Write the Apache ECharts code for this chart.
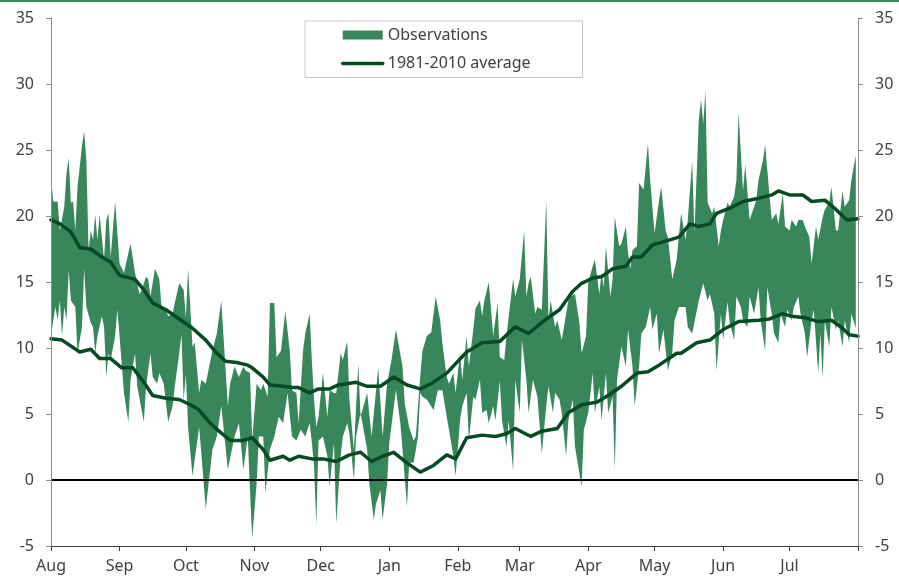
<!DOCTYPE html>
<html>
<head>
<meta charset="utf-8">
<script src="https://cdn.jsdelivr.net/npm/echarts@6/dist/echarts.min.js"></script>
<style>
html,body{margin:0;padding:0;background:#fff;}
#chart{width:899px;height:576px;}
</style>
</head>
<body>
<div id="chart"></div>
<script>
// Month ticks (day offsets from 1 Aug) and labels
const monthStarts = [0,31,61,92,122,153,184,212,243,273,304,334,365];
const monthLabels = ['Aug','Sep','Oct','Nov','Dec','Jan','Feb','Mar','Apr','May','Jun','Jul'];
const yTicks = [-5,0,5,10,15,20,25,30,35];

// Observed daily maxima (upper edge of band)
const maxDays = [0,1,3,4,6,7,8,9,10,11,12,14,15,16,17,18,19,20,21,22,24,25,26,27,29,31,33,35,36,38,40,41,43,44,45,47,49,50,52,53,55,56,58,60,
61,62,64,65,67,68,70,73,75,77,80,81,83,85,87,88,90,91,93,95,96,98,99,101,102,104,106,108,109,111,112,114,115,117,118,119,120,121,
123,125,126,128,129,131,132,134,135,137,139,140,143,145,148,150,152,154,156,159,160,162,164,165,167,168,170,172,174,176,177,179,180,
182,183,185,186,188,189,191,192,194,195,196,198,200,202,203,205,206,209,210,212,214,215,216,217,219,220,222,224,225,226,228,229,231,232,234,235,237,239,240,242,
243,245,246,248,249,250,251,253,254,255,257,258,260,261,262,263,265,266,268,270,271,273,275,276,278,279,281,283,285,287,288,290,291,293,294,295,296,297,299,300,302,303,
304,306,307,309,310,311,313,314,316,317,319,320,322,323,325,326,328,329,331,332,334,335,337,338,340,341,343,344,346,347,349,350,352,353,355,356,358,359,361,362,364];
const obsMax = [23.0,21.1,21.1,18.9,20.7,23.2,24.4,21.0,21.1,18.9,22.2,25.3,26.4,24.2,17.4,18.9,18.2,20.1,18.2,20.1,16.7,19.7,20.2,16.9,21.1,16.4,15.7,17.2,17.9,15.7,14.1,14.4,15.4,15.2,13.9,16.0,15.2,13.1,12.9,12.4,12.6,13.4,14.9,14.4,
12.3,16.0,10.1,10.4,6.6,7.6,7.3,9.8,11.1,13.6,5.6,7.3,8.6,7.8,8.6,8.3,8.1,3.0,7.3,6.8,7.3,6.3,13.4,13.4,9.3,9.8,12.8,9.8,6.8,6.6,4.3,9.8,11.1,12.6,9.0,6.0,4.0,4.8,
8.1,4.8,6.8,6.6,6.6,9.6,9.1,10.5,6.0,2.3,8.8,4.8,6.6,3.3,8.5,3.3,7.3,9.1,11.4,8.6,5.8,4.0,3.0,3.3,7.8,9.8,10.9,11.2,13.9,12.1,10.4,7.8,7.3,
8.1,6.6,9.6,7.6,10.9,8.6,11.4,13.0,13.6,12.4,13.6,15.0,10.9,13.4,9.3,9.1,10.9,15.2,13.9,15.2,18.9,13.9,14.9,15.4,12.6,13.1,12.9,21.2,12.1,13.6,11.6,12.1,10.6,11.6,13.6,13.9,14.1,11.9,9.6,10.9,
15.0,16.2,16.7,14.1,15.7,14.6,17.7,13.9,15.2,19.9,17.7,17.9,19.2,17.2,16.0,17.4,17.7,22.5,22.0,25.5,22.7,18.7,21.2,22.2,18.9,18.4,15.2,16.7,20.2,18.2,19.7,24.2,18.7,27.3,28.8,27.0,29.5,21.0,20.2,20.7,17.7,18.9,
19.7,21.0,20.7,21.5,22.7,27.8,21.9,23.9,19.7,20.2,21.2,22.7,24.2,25.4,21.5,19.7,20.2,19.4,21.7,19.2,18.9,19.7,19.2,19.7,19.7,19.2,18.4,16.4,19.2,18.2,19.9,20.5,21.0,22.2,18.9,18.9,21.9,20.7,21.2,22.7,24.6];

// Observed daily minima (lower edge of band)
const minDays = [0,2,3,4,5,6,7,8,9,11,12,14,15,16,18,19,20,21,23,24,25,26,27,29,30,31,33,35,36,38,39,42,43,45,46,48,49,51,53,55,56,58,59,60,61,62,64,
67,68,70,73,75,77,80,83,85,87,89,90,91,93,94,96,97,99,101,103,105,107,109,111,113,115,117,118,119,120,121,
123,125,126,128,129,131,132,134,135,137,138,140,143,144,146,147,149,150,152,153,156,158,159,161,162,164,166,167,168,170,173,175,177,180,
182,183,185,186,188,189,191,192,194,195,197,198,200,201,203,204,206,207,209,210,212,213,215,216,218,220,222,224,225,227,228,230,231,233,234,236,237,240,241,
243,245,246,248,249,251,252,254,255,256,258,260,261,263,264,266,267,269,271,272,274,275,277,279,281,282,284,287,288,290,293,295,297,298,300,301,303,304,
306,307,309,310,312,313,315,316,318,320,321,323,324,326,327,329,330,332,333,335,336,338,339,341,342,344,345,347,348,349,350,352,353,355,356,358,359,361,362,364];
const obsMin = [11.0,13.1,12.1,13.6,10.9,13.1,12.1,15.9,13.6,13.1,9.6,11.6,16.0,13.1,11.9,11.6,9.6,10.9,12.4,11.6,7.8,9.6,9.1,10.9,12.9,10.9,6.6,4.4,7.6,9.6,7.1,4.4,7.1,9.6,7.8,7.3,8.1,7.3,4.4,5.6,7.1,9.6,11.0,6.0,8.0,4.0,0.3,
4.0,2.0,-2.2,2.3,3.3,5.6,0.8,3.3,4.3,0.8,3.3,-0.8,-4.4,-0.3,3.3,3.3,-1.0,2.3,3.3,4.8,4.3,6.6,3.3,3.0,3.8,3.3,4.3,2.8,1.0,-3.4,3.0,
3.3,1.8,-0.5,2.8,-3.3,1.8,3.3,4.3,3.5,0.0,3.3,5.1,2.3,-0.3,-3.0,-1.8,-0.8,-3.0,-0.3,2.8,6.8,4.3,2.3,-2.0,1.3,1.3,3.3,6.6,6.3,6.1,5.3,6.8,6.8,3.8,
1.8,0.3,4.5,5.6,6.6,3.0,6.3,6.1,7.6,5.1,5.3,4.3,5.6,4.5,7.5,4.5,2.5,4.5,0.7,7.6,5.1,10.6,7.6,5.1,7.6,6.3,2.0,5.6,7.1,5.1,6.6,6.1,5.1,1.8,4.5,6.1,2.5,-0.5,3.8,
5.1,8.1,5.1,7.1,4.5,8.1,5.1,6.3,0.8,7.6,10.1,8.6,11.4,8.6,5.6,8.6,11.1,11.6,13.1,11.4,12.6,9.6,11.4,8.3,9.6,12.1,13.1,13.1,11.6,11.1,13.6,14.9,13.6,14.1,12.6,8.3,12.6,10.6,
13.5,11.9,10.6,13.9,13.1,12.1,11.6,13.9,12.6,14.6,12.1,9.8,14.6,12.6,11.1,10.4,12.6,11.6,12.9,12.1,13.1,13.9,12.6,11.1,9.3,12.1,12.9,8.1,11.1,7.7,12.1,10.1,13.1,11.4,12.1,10.1,12.1,10.4,12.6,11.5];

// 1981-2010 average maximum
const avgHighDays = [0,4,9,13,18,22,27,31,38,42,46,52,58,64,70,75,79,84,89,91,96,99,105,109,112,117,121,126,130,138,143,149,155,161,167,172,179,
188,195,203,210,216,224,230,236,240,245,249,254,260,263,267,272,278,284,289,293,298,301,307,313,319,326,329,334,340,344,350,355,360,365];
const avgHigh = [19.7,19.4,18.8,17.6,17.5,17.0,16.5,15.5,15.2,14.4,13.4,12.9,12.2,11.5,10.6,9.6,9.0,8.9,8.7,8.5,7.8,7.2,7.1,7.0,7.0,6.6,6.9,6.9,7.2,7.4,7.1,7.1,7.8,7.2,6.9,7.3,8.1,
9.7,10.4,10.5,11.6,11.1,12.2,12.9,14.3,14.9,15.3,15.4,16.0,16.2,16.9,16.9,17.8,18.1,18.4,19.4,19.2,19.4,20.2,20.6,21.1,21.3,21.6,21.9,21.6,21.6,21.1,21.2,20.5,19.7,19.8];

// 1981-2010 average minimum
const avgLowDays = [0,5,13,18,22,27,32,37,42,46,52,58,63,67,72,76,81,87,91,96,99,105,108,112,118,123,129,135,140,145,150,155,161,167,173,179,183,
188,195,201,206,210,217,222,229,234,240,247,252,258,265,270,275,283,285,292,298,304,311,320,325,331,335,341,347,353,358,361,365];
const avgLow = [10.7,10.6,9.7,9.9,9.2,9.2,8.5,8.5,7.4,6.4,6.2,6.1,5.7,5.3,4.3,3.7,3.0,3.0,3.2,2.3,1.5,1.8,1.5,1.8,1.6,1.6,1.4,1.9,2.1,1.4,1.8,2.1,1.3,0.6,1.1,1.9,1.6,
3.2,3.4,3.3,3.5,3.9,3.3,3.7,3.9,5.1,5.7,5.9,6.4,7.1,8.1,8.2,8.7,9.6,9.6,10.4,10.6,11.4,12.0,12.1,12.2,12.6,12.4,12.3,12.0,12.1,11.5,11.0,10.9];

const bandColor = '#38875b';
const avgColor = '#064a23';
const textColor = '#404040';
const fontFam = '"Noto Sans", "Open Sans", sans-serif';

const chart = echarts.init(document.getElementById('chart'));

const yAxisCommon = {
  type: 'value', min: -5, max: 35, interval: 5,
  splitLine: { show: false },
  axisLine: { show: true, lineStyle: { color: '#8c8c8c', width: 1 } },
  axisTick: { show: true, length: 5, lineStyle: { color: '#8c8c8c' } },
  axisLabel: { color: textColor, fontSize: 16, fontFamily: fontFam, margin: 17 },
  z: 5
};

chart.setOption({
  animation: false,
  backgroundColor: '#ffffff',
  grid: { left: 51, right: 41, top: 18, bottom: 30, containLabel: false },
  graphic: [{
    type: 'rect', left: 0, top: 0, shape: { x: 0, y: 0, width: 899, height: 2 },
    style: { fill: bandColor }
  }],
  legend: {
    left: 305, top: 21,
    orient: 'vertical',
    padding: [4, 52, 4, 36],
    itemGap: 8.5,
    itemWidth: 40, itemHeight: 9,
    borderColor: '#c8c8c8', borderWidth: 1,
    textStyle: { color: textColor, fontSize: 16, fontFamily: fontFam, lineHeight: 20 },
    data: [
      { name: 'Observations', icon: 'rect', itemStyle: { color: bandColor } },
      { name: '1981-2010 average', itemStyle: { opacity: 0 }, lineStyle: { color: avgColor, width: 3.5 } }
    ]
  },
  xAxis: {
    type: 'value', min: 0, max: 365,
    splitLine: { show: false },
    axisLine: { show: true, onZero: false, lineStyle: { color: '#404040', width: 1 } },
    axisTick: { show: true, length: 5, customValues: monthStarts, lineStyle: { color: '#404040' } },
    axisLabel: {
      customValues: monthStarts.slice(0, 12),
      formatter: function (v) { const i = monthStarts.indexOf(v); return i >= 0 && i < 12 ? monthLabels[i] : ''; },
      color: textColor, fontSize: 16, fontFamily: fontFam, margin: 12
    },
    z: 5
  },
  yAxis: [
    Object.assign({}, yAxisCommon, { position: 'left' }),
    Object.assign({}, yAxisCommon, { position: 'right' })
  ],
  series: [
    {
      type: 'custom',
      name: 'Observations',
      itemStyle: { color: bandColor },
      data: [[0, 0]],
      z: 2,
      silent: true,
      renderItem: function (params, api) {
        if (params.dataIndex !== 0) return;
        const pts = [];
        for (let i = 0; i < maxDays.length; i++) pts.push(api.coord([maxDays[i], obsMax[i]]));
        for (let i = minDays.length - 1; i >= 0; i--) pts.push(api.coord([minDays[i], obsMin[i]]));
        return { type: 'polygon', shape: { points: pts }, style: { fill: bandColor } };
      }
    },
    {
      type: 'line',
      name: '1981-2010 average',
      data: avgHighDays.map((d, i) => [d, avgHigh[i]]),
      symbol: 'none',
      lineStyle: { color: avgColor, width: 3.5, cap: 'round', join: 'round' },
      itemStyle: { color: avgColor },
      z: 3,
      markLine: {
        silent: true, symbol: 'none', label: { show: false },
        lineStyle: { color: '#000000', width: 2, type: 'solid' },
        data: [{ yAxis: 0 }]
      }
    },
    {
      type: 'line',
      name: '1981-2010 average',
      data: avgLowDays.map((d, i) => [d, avgLow[i]]),
      symbol: 'none',
      lineStyle: { color: avgColor, width: 3.5, cap: 'round', join: 'round' },
      itemStyle: { color: avgColor },
      z: 3
    }
  ]
});
</script>
</body>
</html>
